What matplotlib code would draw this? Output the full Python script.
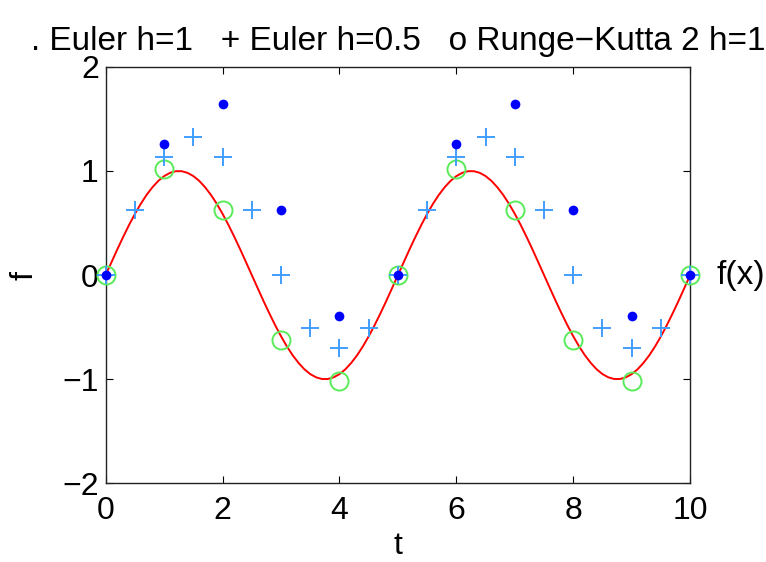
import matplotlib
matplotlib.use("Agg")
import matplotlib.pyplot as plt

# exact curve f(x), read at every 0.1 in t (half period positive, then its mirror)
t_curve = [i * 0.1 for i in range(101)]
pos_half = [0.0, 0.125, 0.249, 0.368, 0.482, 0.588, 0.685, 0.771, 0.844, 0.905,
            0.951, 0.982, 0.998, 0.998, 0.982, 0.951, 0.905, 0.844, 0.771, 0.685,
            0.588, 0.482, 0.368, 0.249, 0.125]
neg_half = [-v for v in pos_half]
f_curve = pos_half + neg_half + pos_half + neg_half + [0.0]

t_h1 = [0, 1, 2, 3, 4, 5, 6, 7, 8, 9, 10]
euler_h1 = [0.0, 1.257, 1.645, 0.628, -0.389, 0.0, 1.257, 1.645, 0.628, -0.389, 0.0]
rk2_h1 = [0.0, 1.017, 0.628, -0.628, -1.017, 0.0, 1.017, 0.628, -0.628, -1.017, 0.0]

t_h05 = [0, 0.5, 1, 1.5, 2, 2.5, 3, 3.5, 4, 4.5, 5, 5.5, 6, 6.5, 7, 7.5, 8, 8.5, 9, 9.5, 10]
euler_h05 = [0.0, 0.628, 1.137, 1.331, 1.137, 0.628, 0.0, -0.508, -0.702, -0.508,
             0.0, 0.628, 1.137, 1.331, 1.137, 0.628, 0.0, -0.508, -0.702, -0.508, 0.0]

title_text = ". Euler h=1   + Euler h=0.5   o Runge\u2212Kutta 2 h=1"

plt.rcParams['font.family'] = ['Liberation Sans', 'DejaVu Sans']
plt.rcParams['axes.unicode_minus'] = True

fig = plt.figure(figsize=(7.66, 5.62), dpi=100)
ax = fig.add_axes([0.138, 0.140, 0.763, 0.741])

ax.plot(t_curve, f_curve, color='red', lw=1.4, zorder=2)
ax.plot(t_h1, rk2_h1, linestyle='none', marker='o', ms=13, mfc='none',
        mec=(0.35, 0.92, 0.35), mew=1.4, zorder=3, clip_on=False)
ax.plot(t_h05, euler_h05, linestyle='none', marker='+', ms=12.5,
        color=(0.25, 0.62, 1.0), mew=1.4, zorder=4, clip_on=False)
ax.plot(t_h1, euler_h1, linestyle='none', marker='o', ms=7,
        color=(0.0, 0.0, 1.0), mew=0, zorder=5, clip_on=False)

ax.set_xlim(0, 10)
ax.set_ylim(-2, 2)
ax.set_xticks([0, 2, 4, 6, 8, 10])
ax.set_yticks([-2, -1, 0, 1, 2])
ax.tick_params(direction='in', length=5, width=0.8, labelsize=23, pad=5,
               top=True, right=True)
ax.tick_params(axis='x', pad=9)
for s in ax.spines.values():
    s.set_linewidth(1.0)
    s.set_color('#222222')

ax.set_xlabel('t', fontsize=23, labelpad=4)
ax.set_ylabel('f', fontsize=23, labelpad=16)
ax.text(10.45, 0, 'f(x)', fontsize=24, ha='left', va='center')
ax.set_title(title_text, fontsize=24, pad=12)

fig.savefig('out.png', dpi=100)
